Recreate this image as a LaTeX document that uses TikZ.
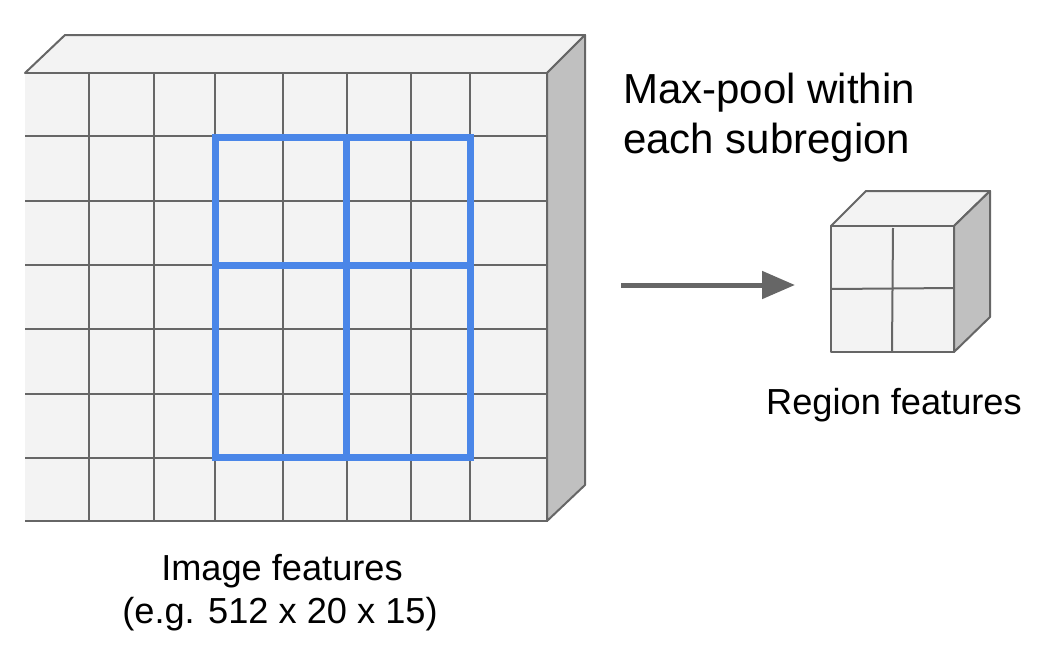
\documentclass[tikz,border=0pt]{standalone}
\usepackage{fontspec}
\setmainfont{Liberation Sans}
\usetikzlibrary{arrows.meta}
\definecolor{facefill}{HTML}{F3F3F3}
\definecolor{sidefill}{HTML}{C0C0C0}
\definecolor{edgegray}{HTML}{666666}
\definecolor{poolblue}{HTML}{4A86E8}
\tikzset{
  edge/.style={draw=edgegray, line width=2pt, line join=round},
  gridline/.style={draw=edgegray, line width=2pt},
  poolline/.style={draw=poolblue, line width=7pt},
  label/.style={inner sep=0pt, text=black},
}
\begin{document}
\begin{tikzpicture}[x=1pt,y=-1pt]
\useasboundingbox (0,0) rectangle (1045,651);
% ---- big box ----
\path[edge, fill=facefill] (25,73) -- (65,35) -- (585,35) -- (547,73) -- cycle;
\path[edge, fill=sidefill] (547,73) -- (585,35) -- (585,485) -- (547,521) -- cycle;
\path[fill=facefill] (25,73) rectangle (547,521);
\foreach \x in {89,154,215,283,347,411,470} {
  \draw[gridline] (\x,73) -- (\x,521);
}
\foreach \y in {136,201,265,329,394,458} {
  \draw[gridline] (25,\y) -- (547,\y);
}
\draw[gridline] (25,73) -- (547,73) -- (547,521) -- (25,521);
% pooling regions
\draw[poolline, line join=miter] (215,137) rectangle (470,457);
\draw[poolline] (346,137) -- (346,457);
\draw[poolline] (215,265) -- (470,265);
% ---- arrow ----
\coordinate (arrowstart) at (621,285);
\coordinate (arrowend) at (795,285);
\draw[draw=edgegray, line width=5pt, -{Triangle[length=33pt,width=27pt]}] (arrowstart) -- (arrowend);
% ---- small cube ----
\path[edge, fill=facefill] (831,226) -- (866,191) -- (990,191) -- (954,226) -- cycle;
\path[edge, fill=sidefill] (954,226) -- (990,191) -- (990,317) -- (954,352) -- cycle;
\path[edge, fill=facefill] (831,226) rectangle (954,352);
\draw[gridline] (893,228) -- (892,352);
\draw[gridline] (831,289) -- (954,288);
% ---- texts ----
\node[label, anchor=base west, font=\fontsize{42}{50}\selectfont] (maxpoolA) at (623,103) {Max-pool within};
\node[label, anchor=base west, font=\fontsize{42}{50}\selectfont] (maxpoolB) at (623,153) {each subregion};
\node[label, anchor=base west, font=\fontsize{36.2}{43}\selectfont] (regionlbl) at (766,414) {Region features};
\node[label, anchor=base, font=\fontsize{36.2}{43}\selectfont] (imagelbl) at (282,580) {Image features};
\node[label, anchor=base, font=\fontsize{36.2}{43}\selectfont] (imagedim) at (280,623) {(e.g. 512 x 20 x 15)};
\end{tikzpicture}
\end{document}
